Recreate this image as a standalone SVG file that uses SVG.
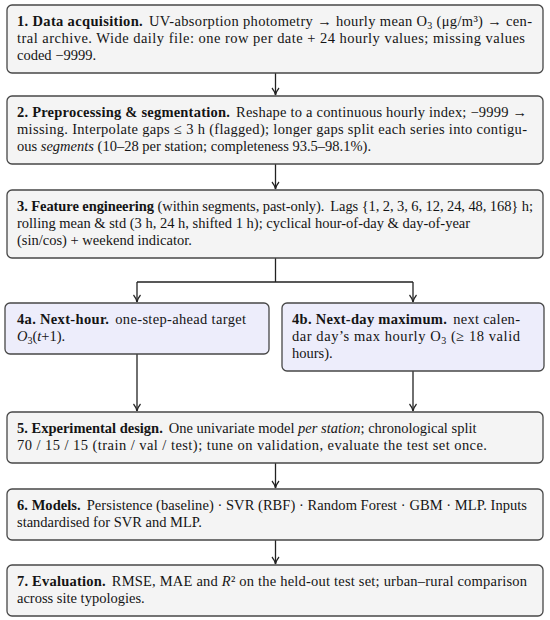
<svg xmlns="http://www.w3.org/2000/svg" width="550" height="620" viewBox="0 0 550 620">
<defs>
<style>
.box{fill:#f4f4f4;stroke:#474747;stroke-width:1.3}
.tgt{fill:#ededfb;stroke:#474747;stroke-width:1.3}
text{font-family:"Liberation Serif","Times New Roman",serif;font-size:14.5px;fill:#141414}
.b{font-weight:bold}
.i{font-style:italic}
.s{font-size:10px}
.edge{fill:none;stroke:#222;stroke-width:1.3}
</style>
<marker id="ah" viewBox="0 0 10 10" refX="9" refY="5" markerWidth="10" markerHeight="10" markerUnits="userSpaceOnUse" orient="auto">
<path d="M2,1.5 Q5,4 9,5 Q5,6 2,8.5" fill="none" stroke="#222" stroke-width="1.2"/>
</marker>
</defs>
<rect width="550" height="620" fill="#ffffff"/>

<g id="connectors">
<path class="edge" d="M275.5,73 V95" marker-end="url(#ah)"/>
<path class="edge" d="M275.5,164 V189" marker-end="url(#ah)"/>
<path class="edge" d="M275.5,258 V282 M137,282 H413"/>
<path class="edge" d="M137,282 V302" marker-end="url(#ah)"/>
<path class="edge" d="M413,282 V302" marker-end="url(#ah)"/>
<path class="edge" d="M137,354 V411" marker-end="url(#ah)"/>
<path class="edge" d="M413,371 V411" marker-end="url(#ah)"/>
<path class="edge" d="M275.5,463 V488" marker-end="url(#ah)"/>
<path class="edge" d="M275.5,540 V564" marker-end="url(#ah)"/>
</g>

<g id="n1">
<rect class="box" x="7" y="5" width="536" height="68" rx="5"/>
<text x="17" y="26" textLength="515" lengthAdjust="spacing"><tspan class="b">1. Data acquisition.</tspan><tspan dx="6">UV-absorption photometry → hourly mean O</tspan><tspan class="s" dy="3">3</tspan><tspan dy="-3"> (μg/m³) → cen-</tspan></text>
<text x="17" y="43" textLength="508" lengthAdjust="spacing">tral archive. Wide daily file: one row per date + 24 hourly values; missing values</text>
<text x="17" y="60">coded −9999.</text>
</g>

<g id="n2">
<rect class="box" x="7" y="96" width="536" height="68" rx="5"/>
<text x="17" y="117" textLength="510" lengthAdjust="spacing"><tspan class="b">2. Preprocessing &amp; segmentation.</tspan><tspan dx="6">Reshape to a continuous hourly index; −9999 →</tspan></text>
<text x="17" y="134" textLength="510" lengthAdjust="spacing">missing. Interpolate gaps ≤ 3 h (flagged); longer gaps split each series into contigu-</text>
<text x="17" y="151">ous <tspan class="i">segments</tspan> (10–28 per station; completeness 93.5–98.1%).</text>
</g>

<g id="n3">
<rect class="box" x="7" y="190" width="536" height="68" rx="5"/>
<text x="17" y="211" textLength="516" lengthAdjust="spacing"><tspan class="b">3. Feature engineering</tspan> (within segments, past-only).<tspan dx="6">Lags {1, 2, 3, 6, 12, 24, 48, 168} h;</tspan></text>
<text x="17" y="228">rolling mean &amp; std (3 h, 24 h, shifted 1 h); cyclical hour-of-day &amp; day-of-year</text>
<text x="17" y="245">(sin/cos) + weekend indicator.</text>
</g>

<g id="n4a">
<rect class="tgt" x="5" y="303" width="264" height="51" rx="5"/>
<text x="17" y="324" textLength="229" lengthAdjust="spacing"><tspan class="b">4a. Next-hour.</tspan><tspan dx="6">one-step-ahead target</tspan></text>
<text x="17" y="341"><tspan class="i">O</tspan><tspan class="s" dy="3">3</tspan><tspan dy="-3">(</tspan><tspan class="i">t</tspan>+1).</text>
</g>

<g id="n4b">
<rect class="tgt" x="282" y="303" width="262" height="68" rx="5"/>
<text x="292" y="324" textLength="228" lengthAdjust="spacing"><tspan class="b">4b. Next-day maximum.</tspan><tspan dx="6">next calen-</tspan></text>
<text x="292" y="341" textLength="228" lengthAdjust="spacing">dar day’s max hourly O<tspan class="s" dy="3">3</tspan><tspan dy="-3"> (≥ 18 valid</tspan></text>
<text x="292" y="358">hours).</text>
</g>

<g id="n5">
<rect class="box" x="7" y="412" width="536" height="51" rx="5"/>
<text x="17" y="433"><tspan class="b">5. Experimental design.</tspan><tspan dx="6">One univariate model </tspan><tspan class="i">per station</tspan>; chronological split</text>
<text x="17" y="450" textLength="470" lengthAdjust="spacing">70 / 15 / 15 (train / val / test); tune on validation, evaluate the test set once.</text>
</g>

<g id="n6">
<rect class="box" x="7" y="489" width="536" height="51" rx="5"/>
<text x="17" y="510" textLength="510" lengthAdjust="spacing"><tspan class="b">6. Models.</tspan><tspan dx="6">Persistence (baseline) · SVR (RBF) · Random Forest · GBM · MLP. Inputs</tspan></text>
<text x="17" y="527">standardised for SVR and MLP.</text>
</g>

<g id="n7">
<rect class="box" x="7" y="565" width="536" height="51" rx="5"/>
<text x="17" y="586" textLength="510" lengthAdjust="spacing"><tspan class="b">7. Evaluation.</tspan><tspan dx="6">RMSE, MAE and </tspan><tspan class="i">R</tspan>² on the held-out test set; urban–rural comparison</text>
<text x="17" y="603">across site typologies.</text>
</g>
</svg>
